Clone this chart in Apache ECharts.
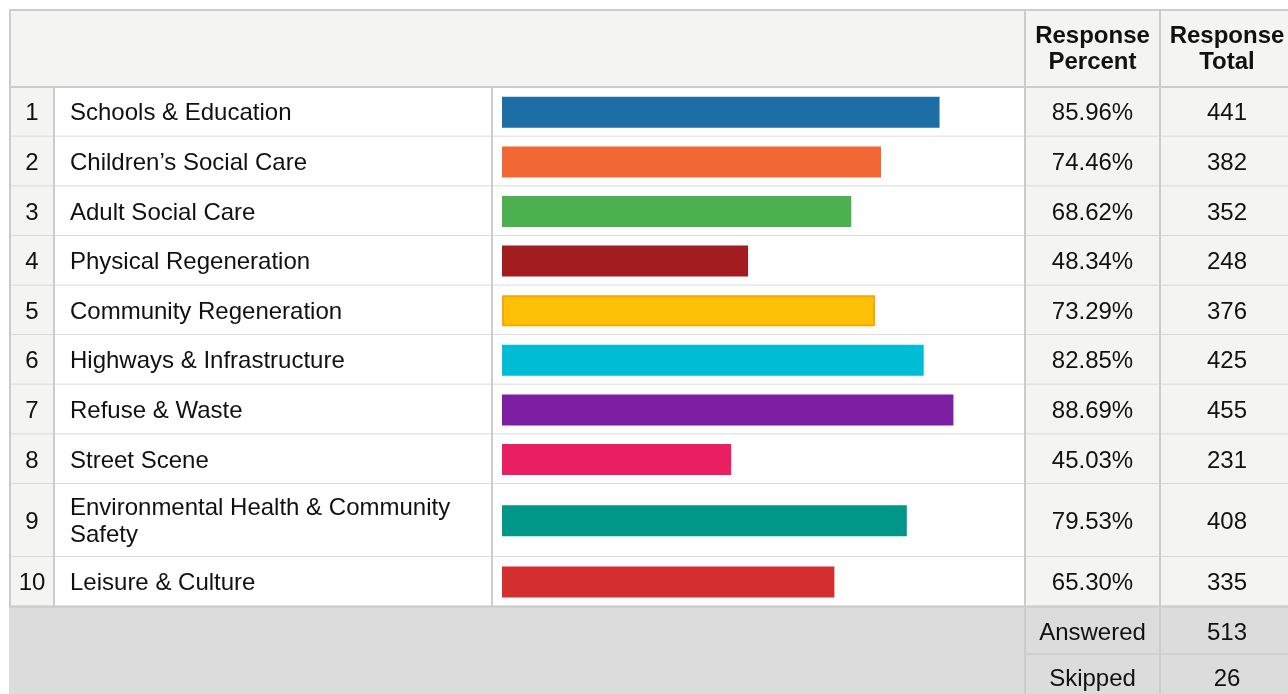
<!DOCTYPE html>
<html><head><meta charset="utf-8">
<script src="https://cdn.jsdelivr.net/npm/echarts@6/dist/echarts.min.js"></script>
<style>html,body{margin:0;padding:0;background:#fff}#chart{width:1288px;height:694px}</style>
</head><body><div id="chart"></div>
<script>
// ---- data ----
const ranks = [1, 2, 3, 4, 5, 6, 7, 8, 9, 10];
const categories = [
  'Schools & Education',
  'Children\u2019s Social Care',
  'Adult Social Care',
  'Physical Regeneration',
  'Community Regeneration',
  'Highways & Infrastructure',
  'Refuse & Waste',
  'Street Scene',
  'Environmental Health & Community\nSafety',
  'Leisure & Culture'
];
const responsePercent = [85.96, 74.46, 68.62, 48.34, 73.29, 82.85, 88.69, 45.03, 79.53, 65.30];
const responseTotal = [441, 382, 352, 248, 376, 425, 455, 231, 408, 335];
const barColors = ['#1c6ea4', '#f26835', '#4caf50', '#a31c1f', '#ffc107', '#00bcd4', '#7e1fa3', '#e91e63', '#009688', '#d32f2f'];
const barBorders = [null, null, null, null, '#ffa500', null, null, null, null, null];
const headerLabels = ['Response\nPercent', 'Response\nTotal'];
const summaryLabels = ['Answered', 'Skipped'];
const summaryValues = [513, 26];

// ---- layout ----
const FONT = '"Liberation Sans", Arial, sans-serif';
const FS = 24;
const TXT = '#111';
const LINE = '#cccccc';
const CELL_GRAY = '#f4f4f2';
const FOOT_GRAY = '#dcdcdc';
const X0 = 9, XR = 1300, Y0 = 9, HEAD_B = 87;
const C_NUM = 54, C_LABEL = 492, C_PCT = 1025, C_TOT = 1160, C_END = 1294;
const ROW_H = 49.6, LINE_EXTRA = 23.4, BAR_H = 31, TY = 2;
const rowHeights = categories.map(c => ROW_H + (c.split('\n').length - 1) * LINE_EXTRA);
const rowStarts = [];
let acc = 0;
rowHeights.forEach(h => { rowStarts.push(acc); acc += h; });
const BODY_H = acc;
const BODY_B = HEAD_B + BODY_H;

const rowData = categories.map((c, i) => [responsePercent[i], rowStarts[i], rowStarts[i] + rowHeights[i], i]);

function txt(text, x, y, align, bold, extra, lh) {
  return Object.assign({
    type: 'text',
    style: {
      text: text, x: x, y: y, fill: TXT, fontSize: FS, fontFamily: FONT,
      fontWeight: bold ? 'bold' : 'normal', align: align, verticalAlign: 'middle', lineHeight: lh || 27
    }
  }, extra || {});
}
function rect(x, y, w, h, fill, extra) {
  return Object.assign({ type: 'rect', shape: { x: x, y: y, width: w, height: h }, style: { fill: fill } }, extra || {});
}
function line(x1, y1, x2, y2, w, color, z) {
  return { type: 'line', z: z || 10, shape: { x1: x1, y1: y1, x2: x2, y2: y2 }, style: { stroke: color || LINE, lineWidth: w || 2 } };
}

const chart = echarts.init(document.getElementById('chart'), null, { renderer: 'canvas' });

const HY = (Y0 + HEAD_B) / 2 + 1.5;
const graphics = [
  // header
  rect(X0, Y0, XR - X0, HEAD_B - Y0, CELL_GRAY, { z: 1 }),
  txt(headerLabels[0], (C_PCT + C_TOT) / 2, HY, 'center', true, { z: 5 }, 26),
  txt(headerLabels[1], (C_TOT + C_END) / 2, HY, 'center', true, { z: 5 }, 26),
  // footer
  rect(X0, BODY_B, XR - X0, 694 - BODY_B + 10, FOOT_GRAY, { z: 1 }),
  // borders
  line(X0, Y0 + 1, XR, Y0 + 1, 2),
  line(X0 + 1, Y0, X0 + 1, BODY_B, 2),
  line(X0, HEAD_B, XR, HEAD_B, 2),
  line(X0, BODY_B, XR, BODY_B, 2),
  line(C_NUM, HEAD_B, C_NUM, BODY_B, 2),
  line(C_LABEL, HEAD_B, C_LABEL, BODY_B, 2),
  line(C_PCT, Y0, C_PCT, 700, 2),
  line(C_TOT, Y0, C_TOT, 700, 2),
  line(C_PCT, BODY_B + 47.5, XR, BODY_B + 47.5, 1.5)
];
summaryLabels.forEach((s, k) => {
  const yc = BODY_B + 25 + TY + k * 46;
  graphics.push(txt(s, (C_PCT + C_TOT) / 2, yc, 'center', false, { z: 5 }));
  graphics.push(txt(String(summaryValues[k]), (C_TOT + C_END) / 2, yc, 'center', false, { z: 5 }));
});

chart.setOption({
  backgroundColor: '#ffffff',
  animation: false,
  grid: { left: 502, width: 509, top: HEAD_B, height: BODY_H, containLabel: false },
  xAxis: { type: 'value', min: 0, max: 100, show: false },
  yAxis: { type: 'value', min: 0, max: BODY_H, inverse: true, show: false },
  graphic: { elements: graphics },
  series: [
    {
      type: 'custom',
      name: 'rows',
      clip: false,
      z: 2,
      encode: { x: 0, y: [1, 2] },
      data: rowData,
      renderItem: function (params, api) {
        const i = api.value(3);
        const yTop = api.coord([0, api.value(1)])[1];
        const yBot = api.coord([0, api.value(2)])[1];
        const h = yBot - yTop;
        const yc = (yTop + yBot) / 2 + TY;
        return {
          type: 'group',
          children: [
            rect(X0, yTop, C_NUM - X0, h, CELL_GRAY),
            rect(C_NUM, yTop, C_PCT - C_NUM, h, '#ffffff'),
            rect(C_PCT, yTop, XR - C_PCT, h, CELL_GRAY),
            txt(String(ranks[i]), 32, yc, 'center', false),
            txt(categories[i], 70, yc, 'left', false),
            txt(responsePercent[i].toFixed(2) + '%', (C_PCT + C_TOT) / 2, yc, 'center', false),
            txt(String(responseTotal[i]), (C_TOT + C_END) / 2, yc, 'center', false),
            { type: 'line', shape: { x1: X0, y1: yBot, x2: XR, y2: yBot }, style: { stroke: '#d0d0d0', lineWidth: 1.5 } }
          ]
        };
      }
    },
    {
      type: 'custom',
      name: 'bars',
      clip: false,
      z: 3,
      encode: { x: 0, y: [1, 2] },
      data: rowData,
      renderItem: function (params, api) {
        const i = api.value(3);
        const p0 = api.coord([0, api.value(1)]);
        const p1 = api.coord([api.value(0), api.value(2)]);
        const yc = (p0[1] + p1[1]) / 2 + 0.5;
        const b = barBorders[i];
        return {
          type: 'rect',
          shape: b ? { x: p0[0] + 1, y: yc - BAR_H / 2 + 1, width: p1[0] - p0[0] - 2, height: BAR_H - 2 }
                   : { x: p0[0], y: yc - BAR_H / 2, width: p1[0] - p0[0], height: BAR_H },
          style: { fill: barColors[i], stroke: b || null, lineWidth: b ? 2 : 0 }
        };
      }
    }
  ]
});
</script>
</body></html>
